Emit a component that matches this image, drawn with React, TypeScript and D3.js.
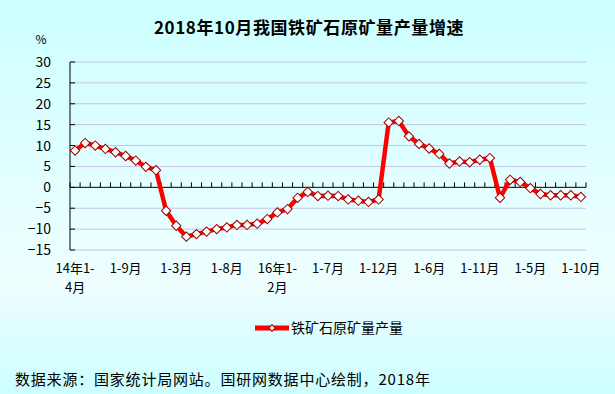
import React from "react"
import * as d3 from "d3"

// 2014年1-4月 ... 2018年1-10月，累计同比增速（%）
const categories = [
  "2014年1-4月", "2014年1-5月", "2014年1-6月", "2014年1-7月", "2014年1-8月", "2014年1-9月", "2014年1-10月", "2014年1-11月", "2014年1-12月",
  "2015年1-2月", "2015年1-3月", "2015年1-4月", "2015年1-5月", "2015年1-6月", "2015年1-7月", "2015年1-8月", "2015年1-9月", "2015年1-10月", "2015年1-11月", "2015年1-12月",
  "2016年1-2月", "2016年1-3月", "2016年1-4月", "2016年1-5月", "2016年1-6月", "2016年1-7月", "2016年1-8月", "2016年1-9月", "2016年1-10月", "2016年1-11月", "2016年1-12月",
  "2017年1-2月", "2017年1-3月", "2017年1-4月", "2017年1-5月", "2017年1-6月", "2017年1-7月", "2017年1-8月", "2017年1-9月", "2017年1-10月", "2017年1-11月", "2017年1-12月",
  "2018年1-2月", "2018年1-3月", "2018年1-4月", "2018年1-5月", "2018年1-6月", "2018年1-7月", "2018年1-8月", "2018年1-9月", "2018年1-10月",
]

const growth = [
  8.8, 10.6, 10.0, 9.2, 8.4, 7.5, 6.4, 4.9, 4.1,
  -5.6, -9.2, -11.8, -11.2, -10.6, -10.0, -9.6, -9.0, -9.0, -8.7, -7.6,
  -6.0, -5.2, -2.5, -1.1, -2.1, -2.0, -2.1, -2.9, -3.2, -3.5, -2.9,
  15.5, 15.9, 12.2, 10.4, 9.3, 8.0, 5.7, 6.2, 6.0, 6.6, 7.0,
  -2.5, 1.8, 1.3, -0.2, -1.6, -1.9, -1.9, -1.9, -2.3,
]

// 横轴标签（每5期一个）
const tickLabels = [
  ["14年1-", "4月"], ["1-9月"], ["1-3月"], ["1-8月"], ["16年1-", "2月"], ["1-7月"],
  ["1-12月"], ["1-6月"], ["1-11月"], ["1-5月"], ["1-10月"],
]
const yTicks = [30, 25, 20, 15, 10, 5, 0, -5, -10, -15]

const title = "2018年10月我国铁矿石原矿量产量增速"
const seriesName = "铁矿石原矿量产量"
const source = "数据来源：国家统计局网站。国研网数据中心绘制，2018年"

const W = 615
const H = 394
const plot = { left: 70, right: 586, top: 62, bottom: 250 }
const font = "'Noto Sans CJK SC', 'Noto Sans', sans-serif"

const App = () => {
  const x = d3
    .scaleBand<number>()
    .domain(d3.range(categories.length))
    .range([plot.left, plot.right])
  const y = d3.scaleLinear().domain([-15, 30]).range([plot.bottom, plot.top])
  const cx = (i: number) => (x(i) as number) + x.bandwidth() / 2

  const line = d3
    .line<number>()
    .x((d, i) => cx(i))
    .y(d => y(d))
  const diamond = d3.symbol().type(d3.symbolSquare).size(44)()
  const smallDiamond = d3.symbol().type(d3.symbolSquare).size(22)()

  const boundaries = d3.range(categories.length + 1).map(i =>
    i < categories.length ? (x(i) as number) : plot.right
  )

  return (
    <svg
      width={W}
      height={H}
      style={{ position: "fixed", left: 0, top: 0, display: "block" }}
      fontFamily={font}
    >
      <defs>
        <linearGradient id="bg" x1="0" y1="0" x2="0" y2="1">
          <stop offset="0" stopColor="#ccffff" />
          <stop offset="0.72" stopColor="#effeff" />
          <stop offset="0.86" stopColor="#dcfdff" />
          <stop offset="1" stopColor="#ccffff" />
        </linearGradient>
      </defs>
      <rect x={0} y={0} width={W} height={H} fill="url(#bg)" />

      <text x={309} y={34} textAnchor="middle" fontSize={17} fontWeight="bold" letterSpacing={0.6} fill="#000">
        {title}
      </text>
      <text x={41} y={44} textAnchor="middle" fontSize={12} fill="#000">%</text>

      {/* 网格线 */}
      {yTicks.filter(t => t !== 0).map(t => (
        <line key={t} x1={plot.left} x2={plot.right} y1={y(t)} y2={y(t)} stroke="#c4c4e6" strokeWidth={1} />
      ))}

      {/* 纵轴 */}
      <line x1={plot.left} x2={plot.left} y1={plot.top} y2={plot.bottom} stroke="#000" />
      {yTicks.map(t => (
        <g key={t}>
          <line x1={plot.left} x2={plot.left + 5} y1={y(t)} y2={y(t)} stroke="#000" />
          <text x={51} y={y(t)} dy="0.36em" textAnchor="end" fontSize={14} fill="#000">
            {t < 0 ? "\u2212" + Math.abs(t) : t}
          </text>
        </g>
      ))}

      {/* 横轴（零线） */}
      <line x1={plot.left} x2={plot.right} y1={y(0)} y2={y(0)} stroke="#000" />
      {boundaries.map((bx, i) => (
        <line key={i} x1={bx} x2={bx} y1={y(0)} y2={y(0) - 5} stroke="#000" />
      ))}
      {tickLabels.map((lab, k) => (
        <text key={k} textAnchor="middle" fontSize={13} fill="#000">
          {lab.map((s, j) => (
            <tspan key={j} x={cx(k * 5)} y={273 + j * 19}>{s}</tspan>
          ))}
        </text>
      ))}

      {/* 数据线 */}
      <path d={line(growth) || ""} fill="none" stroke="#ff0000" strokeWidth={4.5} strokeLinejoin="round" />
      {growth.map((v, i) => (
        <path
          key={i}
          d={diamond || ""}
          transform={`translate(${cx(i)},${y(v)}) rotate(45)`}
          fill="#fff"
          stroke="#990000"
          strokeWidth={1}
        />
      ))}

      {/* 图例 */}
      <line x1={255} x2={289} y1={328} y2={328} stroke="#ff0000" strokeWidth={5} />
      <path d={smallDiamond || ""} transform="translate(272,328) rotate(45)" fill="#fff" stroke="#990000" />
      <text x={291} y={328} dy="0.36em" fontSize={14} fill="#000">{seriesName}</text>

      <text x={15} y={380} dy="0.36em" fontSize={15} letterSpacing={0.8} fill="#000">{source}</text>
    </svg>
  )
}

export default App
